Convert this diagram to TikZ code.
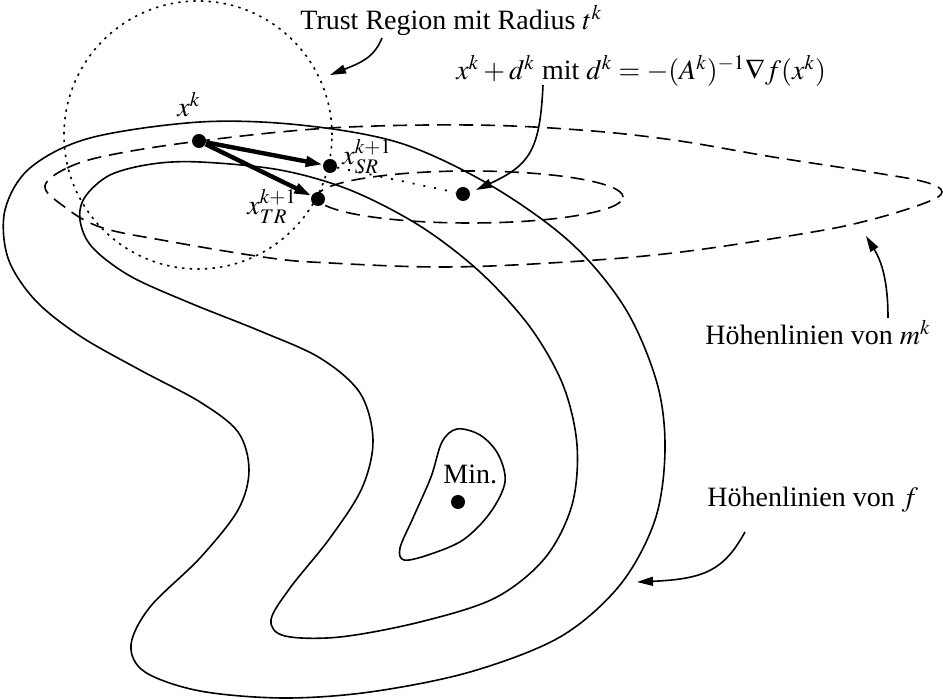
\documentclass[tikz,border=0pt]{standalone}
\usepackage{mathptmx}
\usepackage[no-math]{fontspec}
\setmainfont{Liberation Serif}
\usetikzlibrary{arrows.meta}
\begin{document}
\begin{tikzpicture}[x=0.5pt,y=-0.5pt,
  every node/.style={font=\fontsize{14}{17}\selectfont, inner sep=0pt},
  contour/.style={line width=0.8pt},
  modelline/.style={line width=0.8pt, dash pattern=on 7pt off 4pt},
  trcircle/.style={line width=0.8pt, dash pattern=on 1.2pt off 2.6pt},
  sparsedots/.style={line width=0.9pt, dash pattern=on 1pt off 4.5pt},
  dotpt/.style={circle, fill, inner sep=0pt, minimum size=7pt},
  steparrow/.style={line width=2.2pt, -{Triangle[length=8.5pt,width=5pt]}},
  labelarrow/.style={line width=0.8pt, -{Triangle[length=8pt,width=4.5pt]}},
]
\useasboundingbox (0,0) rectangle (943,699);

% model contours (dashed)
\draw[modelline] plot[smooth cycle, tension=0.6] coordinates {
  (45,186) (67,168) (110,155) (200,141) (330,128) (470,125) (580,130)
  (673,140) (773,157) (870,172) (925,182) (942,192) (925,203) (870,220)
  (807,233) (673,253) (550,263) (440,267) (330,263) (270,258) (167,241)
  (100,227) (62,205)};
\draw[modelline] (470,197) ellipse [x radius=76.5pt, y radius=13pt];

% contours of f (solid)
\draw[contour] plot[smooth cycle, tension=0.55] coordinates {
  (200,122) (300,125) (400,143) (490,185) (570,242) (625,308) (657,383)
  (665,450) (655,520) (620,585) (560,637) (470,672) (370,692) (283,698)
  (200,691) (145,672) (131,645) (150,607) (200,558) (238,510) (249,470)
  (238,432) (200,402) (140,370) (80,336) (35,300) (8,258) (5,210) (30,168) (90,138)};
\draw[contour] plot[smooth cycle, tension=0.55] coordinates {
  (200,162) (280,170) (350,190) (420,226) (480,272) (530,327) (563,385)
  (577,445) (572,505) (545,558) (495,598) (420,622) (340,637) (285,636)
  (271,620) (290,588) (330,538) (362,488) (373,440) (360,393) (320,358)
  (260,331) (190,303) (130,276) (92,247) (80,220) (85,197) (110,175) (152,164)};
\draw[contour] plot[smooth cycle, tension=0.55] coordinates {
  (457,429) (480,435) (498,454) (505,482) (490,513) (463,540) (428,555)
  (404,560) (400,548) (413,518) (431,477) (442,442)};

% trust region
\draw[trcircle] (198,135) circle [radius=67pt];

% points
\node[dotpt] (xk) at (199,141) {};
\node[dotpt] (xsr) at (330,166) {};
\node[dotpt] (xtr) at (318,199) {};
\node[dotpt] (newton) at (463,194) {};
\node[dotpt] (minpt) at (458,502) {};

\draw[sparsedots] (xsr) -- (newton);
\draw[steparrow] (xk) -- (xsr);
\draw[steparrow] (xk) -- (xtr);

% labels
\node[anchor=base west] (lxk) at (177,117) {$x^k$};
\node[anchor=base west] (lxsr) at (342,165) {$x^{k+1}_{SR}$};
\node[anchor=base west] (lxtr) at (247,215) {$x^{k+1}_{TR}$};
\node[anchor=base west] (lmin) at (443,484) {Min.};
\node[anchor=base west] (ltr) at (300,30) {Trust Region mit Radius $t^k$};
\node[anchor=base west] (lnewton) at (456,80) {$x^k+d^k$ mit $d^k=-(A^k)^{-1}\nabla f(x^k)$};
\node[anchor=base west] (lmk) at (705,345) {H\"ohenlinien von $m^k$};
\node[anchor=base west] (lf) at (707,507) {H\"ohenlinien von $f$};

% label arrows
\coordinate (a1s) at (382,38);
\coordinate (a1e) at (330,75);
\draw[labelarrow] (a1s) .. controls (374,58) and (360,63) .. (a1e);
\coordinate (a2s) at (543,85);
\coordinate (a2e) at (476,190);
\draw[labelarrow] (a2s) .. controls (540,150) and (530,165) .. (a2e);
\coordinate (a3s) at (888,318);
\coordinate (a3e) at (866,236);
\draw[labelarrow] (a3s) .. controls (888,282) and (882,262) .. (a3e);
\coordinate (a4s) at (745,532);
\coordinate (a4e) at (637,582);
\draw[labelarrow] (a4s) .. controls (724,570) and (705,579) .. (a4e);
\end{tikzpicture}
\end{document}
